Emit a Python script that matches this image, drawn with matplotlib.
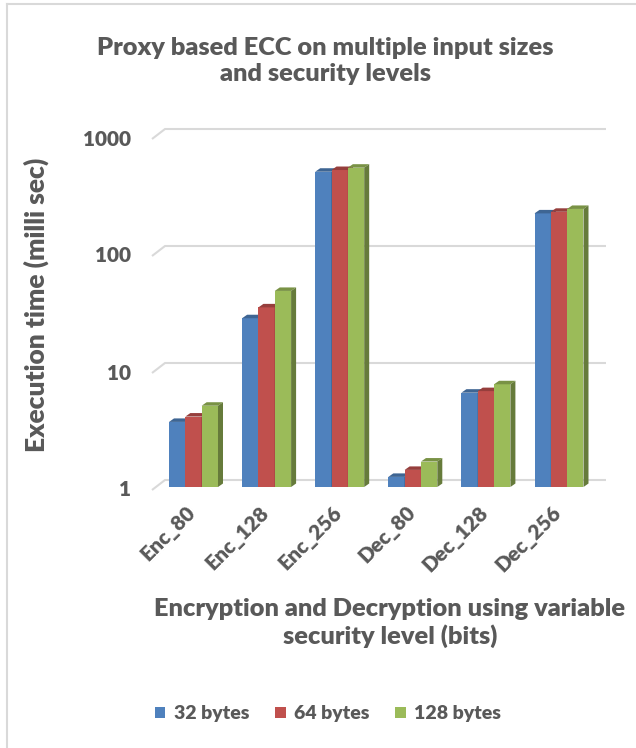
import numpy as np
import matplotlib
matplotlib.use("Agg")
import matplotlib.pyplot as plt
from matplotlib.patches import Polygon, Patch
from matplotlib.colors import to_rgb

plt.rcParams['font.family'] = ['Lato', 'DejaVu Sans']
WEIGHT = 'heavy'

categories = ["Enc_80", "Enc_128", "Enc_256", "Dec_80", "Dec_128", "Dec_256"]
series_names = ["32 bytes", "64 bytes", "128 bytes"]
bytes_32 = [3.6, 27.7, 495, 1.22, 6.4, 218]
bytes_64 = [4.0, 34.3, 512, 1.40, 6.6, 225]
bytes_128 = [4.95, 47.4, 536, 1.65, 7.55, 238]
y_ticks = [1, 10, 100, 1000]

colors = ["#4f81bd", "#c0504d", "#9bbb59"]
text_color = "#595959"
grid_color = "#d9d9d9"

W, H = 636, 748
fig = plt.figure(figsize=(W / 100, H / 100), dpi=100)

# axes box in pixels (left, top, right, bottom)
L, T, R, B = 140, 110, 610, 500
ax = fig.add_axes([L / W, (H - B) / H, (R - L) / W, (B - T) / H])
ax.set_yscale("log")

px_per_cat = 73.1      # horizontal pixels per category
px_per_dec = 117.0     # vertical pixels per decade
x0_px, y1_px = 193.5, 487.0   # first category centre and baseline (value 1)
ax.set_xlim((L - x0_px) / px_per_cat, (R - x0_px) / px_per_cat)
ax.set_ylim(10 ** ((y1_px - B) / px_per_dec), 10 ** ((y1_px - T) / px_per_dec))
ax.axis("off")

def dx(px):
    return px / px_per_cat

def fy(px):
    # multiplicative factor for moving px pixels upward on the log axis
    return 10 ** (px / px_per_dec)

# walls: back gridlines and the slanted floor-front segments
back_dx, back_up = dx(9), fy(7)
front_dx, front_up = dx(-4), fy(-3)
x_back_left, x_back_right = (165 - x0_px) / px_per_cat, (606 - x0_px) / px_per_cat
x_front_left = x_back_left - back_dx + front_dx
for t in y_ticks:
    yb = t * back_up
    yf = t * front_up
    ax.plot([x_front_left, x_back_left, x_back_right], [yf, yb, yb],
            color=grid_color, lw=1.5, zorder=1, solid_capstyle="butt")
    ax.text(x_front_left - dx(21), yf, f"{t}", ha="right", va="center",
            fontsize=15, color=text_color, fontweight=WEIGHT)

# 3D-looking bars
bw = dx(16.33)
depth_x, depth_up = dx(5), fy(3.5)
x = np.arange(len(categories))
all_series = [bytes_32, bytes_64, bytes_128]

def shade(c, f):
    r, g, b = to_rgb(c)
    return (r * f, g * f, b * f)

for j, (vals, c) in enumerate(zip(all_series, colors)):
    xs = x + (j - 1) * bw
    z = 3 + j
    ax.bar(xs, np.array(vals) - 1, bottom=1, width=bw, color=c, zorder=z,
           edgecolor="none")
    for xc, v in zip(xs, vals):
        xa, xb = xc - bw / 2, xc + bw / 2
        top = Polygon([(xa, v), (xb, v), (xb + depth_x, v * depth_up),
                       (xa + depth_x, v * depth_up)],
                      closed=True, facecolor=shade(c, 0.78), edgecolor="none", zorder=z)
        side = Polygon([(xb, 1), (xb, v), (xb + depth_x, v * depth_up),
                        (xb + depth_x, depth_up)],
                       closed=True, facecolor=shade(c, 0.66), edgecolor="none", zorder=z)
        ax.add_patch(top)
        ax.add_patch(side)

# category labels, rotated
for xi, name in zip(x, categories):
    ax.text(xi - dx(1), fy(-22), name, rotation=45, rotation_mode="anchor",
            ha="right", va="center", fontsize=15, color=text_color,
            fontweight=WEIGHT)

# titles
fig.text(325 / W, 1 - 61 / H, "Proxy based ECC on multiple input sizes\nand security levels",
         ha="center", va="center", fontsize=18.3, color=text_color,
         fontweight=WEIGHT, linespacing=1.25)
fig.text(36 / W, 1 - 305 / H, "Execution time (milli sec)", rotation=90,
         ha="center", va="center", fontsize=19, color=text_color, fontweight=WEIGHT)
fig.text(390 / W, 1 - 623 / H, "Encryption and Decryption using variable\nsecurity level (bits)",
         ha="center", va="center", fontsize=18.3, color=text_color,
         fontweight=WEIGHT, linespacing=1.25)

handles = [Patch(facecolor=c, edgecolor="none") for c in colors]
leg = fig.legend(handles, series_names, loc="center", ncol=3,
                 bbox_to_anchor=(328 / W, 1 - 714 / H), frameon=False,
                 fontsize=14, handlelength=0.55, handleheight=0.55,
                 handletextpad=0.45, columnspacing=1.3)
for t in leg.get_texts():
    t.set_color(text_color)
    t.set_fontweight(WEIGHT)

# chart-area border (left and top edges)
fig.add_artist(plt.Line2D([6.5 / W, 6.5 / W], [0, 1 - 4 / H], color="#d9d9d9", lw=1.5,
                          transform=fig.transFigure))
fig.add_artist(plt.Line2D([6.5 / W, 1], [1 - 4 / H, 1 - 4 / H], color="#d9d9d9", lw=1.5,
                          transform=fig.transFigure))

fig.savefig("out.png", dpi=100, facecolor="white")
